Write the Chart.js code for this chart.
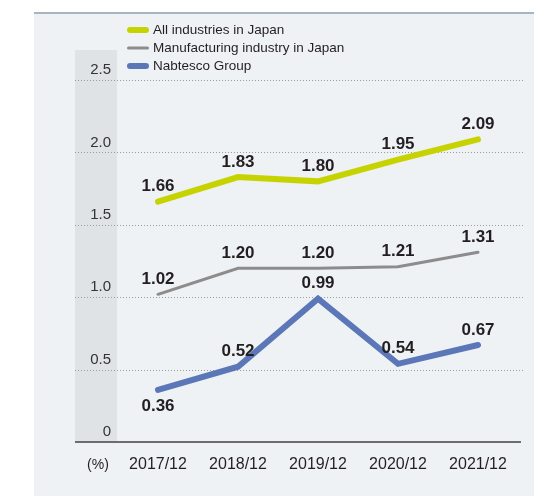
<!DOCTYPE html>
<html>
<head>
<meta charset="utf-8">
<script src="https://cdn.jsdelivr.net/npm/chart.js@4.4.0/dist/chart.umd.min.js"></script>
<style>
  html, body { margin: 0; padding: 0; background: #fff; }
</style>
</head>
<body>
<canvas id="myChart" width="534" height="496"></canvas>
<script>
const years = ['2017/12', '2018/12', '2019/12', '2020/12', '2021/12'];
const allIndustries = [1.66, 1.83, 1.80, 1.95, 2.09];
const manufacturing = [1.02, 1.20, 1.20, 1.21, 1.31];
const nabtesco = [0.36, 0.52, 0.99, 0.54, 0.67];
const yTicks = [0, 0.5, 1.0, 1.5, 2.0, 2.5];

const FONT = '"Liberation Sans", Arial, sans-serif';
const TEXT = '#231f20';

// panel background, top rule and the shaded strip behind the y labels
const panelPlugin = {
    id: 'panel',
    beforeDraw(chart) {
        const ctx = chart.ctx;
        const y = chart.scales.y;
        ctx.save();
        ctx.fillStyle = '#ffffff';
        ctx.fillRect(0, 0, chart.width, chart.height);
        ctx.fillStyle = '#eef2f5';
        ctx.fillRect(34, 13, chart.width - 34, chart.height - 13);
        ctx.fillStyle = '#a9b5be';
        ctx.fillRect(34, 12, chart.width - 34, 2);
        ctx.fillStyle = '#dfe3e6';
        ctx.fillRect(75, 50, 42, y.getPixelForValue(0) - 50);
        ctx.restore();
    }
};

// dotted grid lines and the base axis, wider than the plot area
const gridPlugin = {
    id: 'dottedGrid',
    beforeDatasetsDraw(chart) {
        const ctx = chart.ctx;
        const y = chart.scales.y;
        ctx.save();
        ctx.strokeStyle = '#9c9c9c';
        ctx.lineWidth = 1;
        ctx.setLineDash([1, 2]);
        y.ticks.forEach(t => {
            if (t.value === 0) return;
            const py = Math.round(y.getPixelForValue(t.value)) + 0.5;
            ctx.beginPath();
            ctx.moveTo(75, py);
            ctx.lineTo(523, py);
            ctx.stroke();
        });
        ctx.setLineDash([]);
        ctx.strokeStyle = '#6d6d6d';
        ctx.lineWidth = 2;
        const y0 = Math.round(y.getPixelForValue(0));
        ctx.beginPath();
        ctx.moveTo(75, y0);
        ctx.lineTo(521, y0);
        ctx.stroke();

        ctx.fillStyle = TEXT;
        ctx.font = '14px ' + FONT;
        ctx.textAlign = 'center';
        ctx.textBaseline = 'middle';
        ctx.fillText('(%)', 98, y0 + 23);
        ctx.restore();
    }
};

// value labels on each point
const valueLabels = {
    id: 'valueLabels',
    afterDatasetsDraw(chart) {
        const ctx = chart.ctx;
        ctx.save();
        ctx.fillStyle = TEXT;
        ctx.font = 'bold 17px ' + FONT;
        ctx.textAlign = 'center';
        ctx.textBaseline = 'middle';
        chart.data.datasets.forEach((ds, i) => {
            chart.getDatasetMeta(i).data.forEach((pt, j) => {
                const below = ds.labelBelow && ds.labelBelow[j];
                const py = below ? pt.y + 16 : pt.y - 15;
                ctx.fillText(ds.data[j].toFixed(2), pt.x, py);
            });
        });
        ctx.restore();
    }
};

// legend stacked top-left with rounded line keys
const legendPlugin = {
    id: 'stackLegend',
    afterDraw(chart) {
        const ctx = chart.ctx;
        ctx.save();
        ctx.font = '13.5px ' + FONT;
        ctx.textBaseline = 'middle';
        ctx.fillStyle = TEXT;
        chart.data.datasets.forEach((ds, i) => {
            const cy = 30 + i * 18;
            const w = ds.legendWidth;
            ctx.strokeStyle = ds.borderColor;
            ctx.lineWidth = w;
            ctx.lineCap = 'round';
            ctx.beginPath();
            ctx.moveTo(127 + w / 2, cy);
            ctx.lineTo(149 - w / 2, cy);
            ctx.stroke();
            ctx.fillText(ds.label, 153, cy);
        });
        ctx.restore();
    }
};

const ctx = document.getElementById('myChart');
const myChart = new Chart(ctx, {
    type: 'line',
    data: {
        labels: years,
        datasets: [{
            label: 'All industries in Japan',
            data: allIndustries,
            borderColor: '#c6d300',
            borderWidth: 6,
            legendWidth: 6
        }, {
            label: 'Manufacturing industry in Japan',
            data: manufacturing,
            borderColor: '#8c8c8c',
            borderWidth: 3,
            legendWidth: 3
        }, {
            label: 'Nabtesco Group',
            data: nabtesco,
            borderColor: '#5b77b7',
            borderWidth: 6,
            legendWidth: 6,
            labelBelow: [true, false, false, false, false]
        }]
    },
    options: {
        responsive: false,
        animation: false,
        layout: { padding: { top: 80, right: 16, left: 0, bottom: 0 } },
        elements: {
            point: { radius: 0, hoverRadius: 0 },
            line: { tension: 0, borderCapStyle: 'round', fill: false }
        },
        datasets: { line: { clip: false } },
        plugins: {
            legend: { display: false },
            tooltip: { enabled: false }
        },
        scales: {
            x: {
                offset: true,
                grid: { display: false, drawTicks: false },
                border: { display: false },
                ticks: { color: TEXT, font: { family: FONT, size: 16 }, padding: 13, maxRotation: 0 },
                afterFit: s => { s.height = 54; }
            },
            y: {
                min: 0,
                max: 2.5,
                grid: { display: false, drawTicks: false },
                border: { display: false },
                afterBuildTicks: s => { s.ticks = yTicks.map(v => ({ value: v })); },
                ticks: {
                    color: '#333',
                    font: { family: FONT, size: 15 },
                    padding: 7,
                    labelOffset: -10,
                    callback: v => v === 0 ? '0' : v.toFixed(1)
                },
                afterFit: s => { s.width = 118; }
            }
        }
    },
    plugins: [panelPlugin, gridPlugin, valueLabels, legendPlugin]
});
</script>
</body>
</html>
